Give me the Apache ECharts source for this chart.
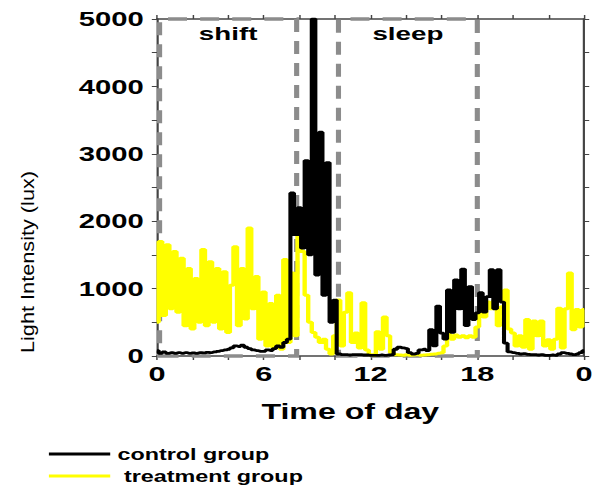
<!DOCTYPE html>
<html>
<head>
<meta charset="utf-8">
<script src="https://cdn.jsdelivr.net/npm/echarts@6/dist/echarts.min.js"></script>
<style>
  html, body { margin: 0; padding: 0; background: #fff; overflow: hidden; }
  /* the figure is laid out narrow and widened as a whole */
  #chart { width: 409px; height: 486px; transform: scaleX(1.4597); transform-origin: 0 0; }
</style>
</head>
<body>
<div id="chart"></div>
<script>
// Light intensity (lux) sampled every 0.2 h over one day (0 .. 24 h)
const treatment = [
  500, 1700, 600, 1650, 700, 1550, 650, 1450, 450, 1300,
  400, 1150, 500, 1580, 450, 1400, 500, 1300, 400, 1250,
  350, 1050, 1620, 450, 1300, 550, 1900, 700, 1180, 250,
  950, 150, 780, 120, 900, 100, 1430, 200, 1230, 300,
  1900, 1550, 900, 500, 350, 280, 200, 250, 100, 30,
  300, 830, 150, 650, 940, 200, 340, 120, 790, 90,
  20, 10, 360, 100, 580, 300, 50, 20, 15, 10,
  20, 10, 15, 20, 10, 15, 20, 25, 30, 40,
  50, 150, 320, 250, 310, 280, 300, 270, 300, 280,
  430, 650, 580, 800, 700, 830, 450, 730, 980, 400,
  340, 150, 300, 130, 540, 100, 520, 300, 520, 150,
  240, 100, 250, 710, 120, 700, 1230, 390, 690, 430,
  690
];
const control = [
  80, 40, 60, 40, 50, 40, 50, 40, 50, 40,
  45, 40, 50, 45, 55, 50, 60, 70, 80, 90,
  100, 120, 150, 140, 160, 130, 110, 90, 80, 70,
  70, 90, 80, 110, 150, 130, 200, 250, 2420, 1800,
  2200, 1600, 2900, 1500, 5000, 1200, 3320, 900, 2870, 500,
  830, 30, 20, 20, 15, 20, 20, 20, 15, 15,
  10, 10, 10, 15, 10, 15, 20, 100, 130, 120,
  110, 50, 30, 40, 90, 100, 80, 390, 150, 740,
  340, 250, 980, 350, 1130, 700, 1290, 450, 1030, 540,
  640, 940, 650, 880, 1280, 700, 1280, 800, 190, 60,
  50, 40, 30, 35, 25, 20, 20, 15, 20, 10,
  10, 15, 10, 30, 50, 40, 30, 20, 30, 50,
  80
];
// sampling clock for the readings above
const hours = control.map((_, i) => Math.round(i * 2) / 10);

const xTicks = [0, 6, 12, 18, 24];
const xTickText = ['0', '6', '12', '18', '0'];
const yTicks = [0, 1000, 2000, 3000, 4000, 5000];

// marked periods of the day
const periods = [
  { name: 'shift', from: 0.15, to: 7.85 },
  { name: 'sleep', from: 10.2, to: 18 }
];

const FONT = '"Liberation Sans", Arial, Helvetica, sans-serif';
const AXIS = '#444';

const toPairs = vals => vals.map((v, i) => [hours[i], v]);

const frameAxis = {
  axisLine: { show: true, onZero: false, lineStyle: { color: AXIS, width: 1.5 } },
  axisTick: { show: true, inside: false, lineStyle: { color: AXIS, width: 1 } },
  splitLine: { show: false }
};

const chart = echarts.init(document.getElementById('chart'), null, { renderer: 'svg' });

chart.setOption({
  animation: false,
  backgroundColor: '#fff',
  grid: { left: 107.5, right: 5.6, top: 19, bottom: 130 },
  xAxis: [
    Object.assign({}, frameAxis, {
      type: 'value', min: 0, max: 24, interval: 2, position: 'bottom',
      axisTick: Object.assign({}, frameAxis.axisTick, { length: 4 }),
      axisLabel: {
        margin: 7, color: '#000', fontFamily: FONT, fontWeight: 'bold', fontSize: 21,
        formatter: v => { const k = xTicks.indexOf(v); return k >= 0 ? xTickText[k] : ''; }
      }
    }),
    Object.assign({}, frameAxis, {
      type: 'value', min: 0, max: 24, interval: 2, position: 'top',
      axisTick: Object.assign({}, frameAxis.axisTick, { length: 4 }),
      axisLabel: { show: false }
    })
  ],
  yAxis: [
    Object.assign({}, frameAxis, {
      type: 'value', min: 0, max: 5000, interval: 500, position: 'left',
      axisTick: Object.assign({}, frameAxis.axisTick, { length: 3.5 }),
      axisLabel: {
        margin: 9, color: '#000', fontFamily: FONT, fontWeight: 'bold', fontSize: 20,
        formatter: v => yTicks.indexOf(v) >= 0 ? String(v) : ''
      }
    }),
    Object.assign({}, frameAxis, {
      type: 'value', min: 0, max: 5000, interval: 500, position: 'right',
      axisTick: Object.assign({}, frameAxis.axisTick, { length: 3.5 }),
      axisLabel: { show: false }
    })
  ],
  legend: {
    orient: 'vertical', left: 33.5, top: 446, height: 44,
    itemWidth: 42, itemHeight: 3, itemGap: 6, padding: 0,
    textStyle: { fontFamily: FONT, fontWeight: 'bold', fontSize: 16, color: '#000', lineHeight: 14 },
    formatter: name => name === 'treatment group' ? ' ' + name : name,
    data: [
      { name: 'control group', icon: 'rect' },
      { name: 'treatment group', icon: 'rect', itemStyle: { color: '#ffff00' } }
    ]
  },
  graphic: [
    {
      type: 'text', x: 18.5, y: 262, rotation: Math.PI / 2, scaleX: 1.67,
      style: {
        text: 'Light Intensity (lux)', fontFamily: FONT, fontSize: 13,
        fill: '#000', align: 'center', verticalAlign: 'middle'
      }
    },
    {
      type: 'text', x: 240, y: 411,
      style: {
        text: 'Time of day', fontFamily: FONT, fontSize: 22, fontWeight: 'bold',
        fill: '#000', align: 'center', verticalAlign: 'middle'
      }
    }
  ],
  series: [
    {
      name: 'treatment group', type: 'line', step: 'middle',
      data: toPairs(treatment), symbol: 'none', showSymbol: false,
      color: '#ffff00', lineStyle: { color: '#ffff00', width: 3 }, z: 2
    },
    {
      name: 'control group', type: 'line', step: 'middle',
      data: toPairs(control), symbol: 'none', showSymbol: false,
      color: '#000', lineStyle: { color: '#000', width: 2.8 }, z: 3
    },
    {
      name: 'periods', type: 'line', data: [], z: 5,
      markArea: {
        silent: true,
        itemStyle: {
          color: 'rgba(0,0,0,0)', borderColor: '#8c8c8c',
          borderWidth: 3.5, borderType: [13, 9]
        },
        label: {
          show: true, position: 'insideTop', distance: 6,
          fontFamily: FONT, fontWeight: 'bold', fontSize: 19, color: '#000'
        },
        data: periods.map(p => [
          { name: p.name, xAxis: p.from, yAxis: 0 },
          { xAxis: p.to, yAxis: 5000 }
        ])
      }
    }
  ]
});
</script>
</body>
</html>
